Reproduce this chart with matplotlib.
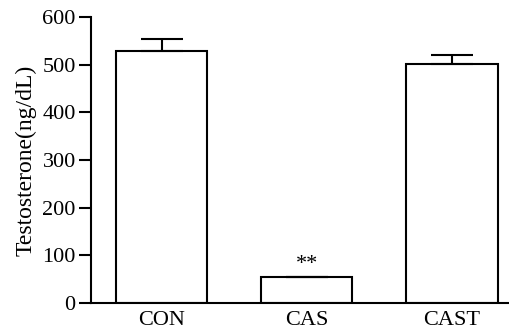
import matplotlib.pyplot as plt
import numpy as np

plt.rcParams['font.family'] = ['Liberation Serif', 'DejaVu Serif']

# data
groups = ['CON', 'CAS', 'CAST']
testosterone = [529, 55, 501]
sem = [25, 0, 20]
marks = ['', '**', '']

fig = plt.figure(figsize=(5.10, 3.34), dpi=100)
ax = fig.add_axes([91 / 510, 31 / 334, 419 / 510, 286 / 334])

x = np.arange(len(groups))
ax.bar(x, testosterone, width=0.63, color='white', edgecolor='black', linewidth=1.5,
       yerr=[np.zeros(len(sem)), sem], capsize=15,
       error_kw={'elinewidth': 1.5, 'capthick': 1.5, 'ecolor': 'black'})

for xi, v, e, m in zip(x, testosterone, sem, marks):
    if m:
        ax.text(xi, v + e + 6, m, ha='center', va='bottom', fontsize=16)

ax.set_xlim(-0.486, 2.40)
ax.set_ylim(0, 600)
ax.set_yticks(range(0, 601, 100))
ax.set_xticks(x)
ax.set_xticklabels(groups)
ax.tick_params(axis='x', length=0, pad=6, labelsize=16)
ax.tick_params(axis='y', length=9, width=1.5, pad=2, labelsize=16)
ax.set_ylabel('Testosterone(ng/dL)', fontsize=17, labelpad=4)

for side in ['top', 'right']:
    ax.spines[side].set_visible(False)
for side in ['left', 'bottom']:
    ax.spines[side].set_linewidth(1.5)

fig.savefig('out.png', dpi=100)
